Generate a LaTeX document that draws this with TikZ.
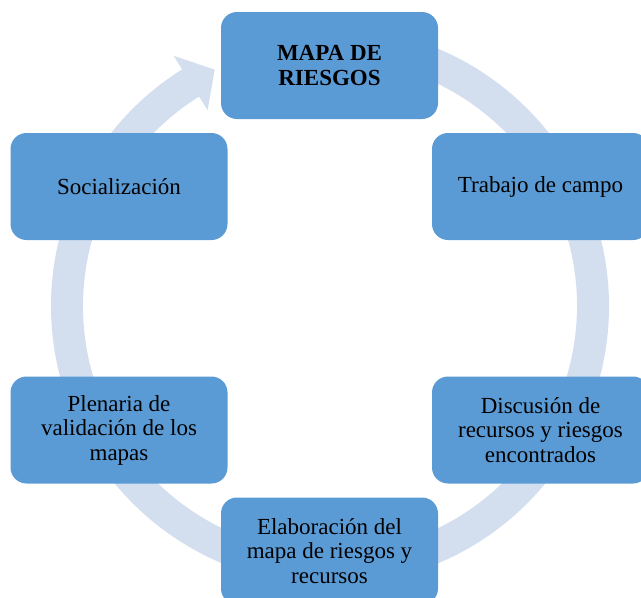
\documentclass[tikz,border=0pt]{standalone}
\usepackage{fontspec}
\setmainfont{Liberation Serif}
\definecolor{boxblue}{HTML}{5B9BD5}
\definecolor{ringblue}{HTML}{D3DEEF}
\begin{document}
\begin{tikzpicture}[x=1pt,y=-1pt,
  stepbox/.style={draw=none, fill=boxblue, rounded corners=16pt,
    minimum width=217pt, minimum height=107pt, inner sep=0pt,
    align=center, text=black, font=\fontsize{23}{24.5}\selectfont}]
\useasboundingbox (0,0) rectangle (641,598);
\clip (0,0) rectangle (641,598);
% ring with arrowhead
\begin{scope}[shift={(330,306)}, yscale=-1]
  \fill[ringblue] (95:279) arc[start angle=95, end angle=-238, radius=279]
    -- (-238:295) -- (-244:263) -- (-238:231) -- (-238:247)
    arc[start angle=-238, end angle=95, radius=247] -- cycle;
\end{scope}
\node[stepbox] (mapa) at (329.5,65.5) {\textbf{MAPA DE}\\\textbf{RIESGOS}};
\node[stepbox] (trab) at (540.5,186.5) {Trabajo de campo};
\node[stepbox] (disc) at (540.5,430) {Discusión de\\recursos y riesgos\\encontrados};
\node[stepbox] (elab) at (329.5,551) {Elaboración del\\mapa de riesgos y\\recursos};
\node[stepbox] (plen) at (119,430) {Plenaria de\\validación de los\\mapas};
\node[stepbox] (soc) at (119,186.5) {Socialización};
\end{tikzpicture}
\end{document}
